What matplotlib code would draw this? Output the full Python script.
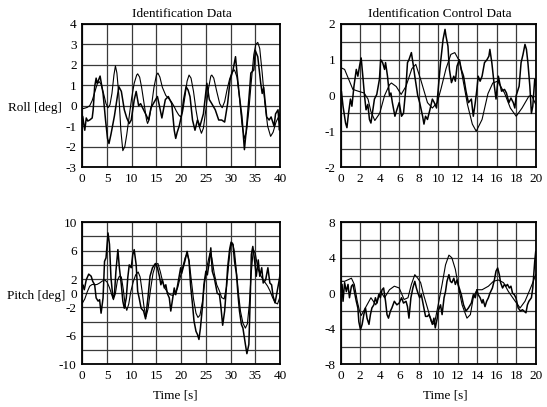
import numpy as np
import matplotlib
matplotlib.use('Agg')
import matplotlib.pyplot as plt

plt.rcParams['font.family'] = ['Liberation Serif', 'DejaVu Serif']
plt.rcParams['font.size'] = 9.5

# roll, identification data (t [s], deg)
roll_id_meas = [(0, -0.5), (0.1, -0.54), (0.3, -0.9), (0.5, -1.2), (0.8, -0.6), (1.1, -0.75), (1.5, -0.7),
                (2.0, -0.6), (2.2, -0.2), (2.5, 0.93), (2.8, 1.35), (3.0, 1.1), (3.2, 1.2), (3.6, 1.45),
                (4.2, 0.6), (4.7, -0.7), (5.1, -1.6), (5.4, -1.85), (5.8, -1.4), (6.5, -0.5), (7.0, 0.3),
                (7.4, 0.93), (7.9, 0.7), (8.5, -0.2), (9.0, -0.6), (9.5, -0.87), (9.9, -0.7), (10.5, 0.28),
                (10.9, 0.7), (11.4, 0.0), (11.8, 0.1), (12.2, -0.1), (12.9, -0.45), (13.4, -0.7),
                (13.9, -0.1), (14.6, 0.2), (15.2, 0.45), (15.6, 0.0), (16.1, -0.6), (16.8, 0.3),
                (17.4, 0.45), (18.1, 0.1), (18.6, -1.2), (18.9, -1.6), (19.2, -1.3), (19.6, -1.0),
                (20.1, -0.45), (20.5, 0.3), (21.0, 0.93), (21.4, 0.77), (21.8, 0.44), (22.3, -0.7),
                (22.8, -1.2), (23.3, -0.7), (23.8, -1.0), (24.5, -0.4), (25.2, 1.1), (25.7, 0.3),
                (26.2, 0.1), (26.9, -0.2), (27.6, -0.7), (28.2, -0.7), (28.8, -0.8), (29.4, 0.1),
                (29.9, 1.26), (30.5, 1.75), (31.0, 2.4), (31.3, 1.6), (31.8, 0.44), (32.3, -0.55),
                (32.8, -2.15), (33.3, -0.87), (33.9, 0.93), (34.1, 1.6), (34.7, 1.75), (35.0, 2.7),
                (35.5, 2.4), (36.1, 1.1), (36.4, 0.6), (36.7, 0.9), (37.3, -0.55), (37.8, -0.7),
                (38.2, -0.55), (38.8, -1.0), (39.1, -0.4), (39.6, -0.2), (39.9, -1.2), (40.0, -0.8)]
roll_id_model = [(0, -0.15), (0.5, -0.12), (1.0, -0.08), (1.5, 0.0), (2.0, 0.25), (2.5, 0.65), (3.0, 1.05),
                 (3.4, 1.18), (3.8, 1.05), (4.3, 0.6), (4.8, 0.1), (5.2, -0.1), (5.6, 0.05), (6.0, 0.6),
                 (6.4, 1.5), (6.7, 1.95), (7.0, 1.6), (7.4, 0.5), (7.8, -1.2), (8.2, -2.2), (8.6, -2.0),
                 (9.0, -1.4), (9.5, -0.5), (10.0, 0.4), (10.5, 1.1), (11.0, 1.5), (11.2, 1.56),
                 (11.6, 1.4), (12.0, 0.9), (12.5, 0.1), (13.0, -0.7), (13.2, -0.87), (13.5, -0.7),
                 (14.0, 0.0), (14.5, 0.9), (15.0, 1.5), (15.3, 1.6), (15.7, 1.4), (16.2, 0.9),
                 (16.9, 0.5), (17.5, 0.35), (18.0, 0.2), (18.5, 0.0), (19.0, -0.25), (19.5, -0.45),
                 (19.9, -0.55), (20.3, -0.3), (20.8, 0.5), (21.2, 1.2), (21.6, 1.5), (22.0, 1.35),
                 (22.5, 0.7), (23.0, -0.2), (23.5, -0.9), (24.1, -1.35), (24.5, -1.1), (25.0, -0.2),
                 (25.5, 0.8), (26.0, 1.45), (26.2, 1.5), (26.6, 1.35), (27.2, 0.7), (27.8, 0.1),
                 (28.3, -0.1), (28.8, 0.2), (29.3, 0.8), (29.8, 1.3), (30.3, 1.65), (30.8, 1.75),
                 (31.3, 1.4), (31.8, 0.4), (32.3, -0.9), (32.8, -1.6), (33.2, -1.3), (33.7, -0.2),
                 (34.2, 1.2), (34.7, 2.5), (35.1, 3.0), (35.5, 3.1), (35.9, 2.8), (36.4, 1.6),
                 (36.9, 0.2), (37.5, -1.0), (38.1, -1.5), (38.6, -1.3), (39.2, -0.8), (39.6, -0.6),
                 (40.0, -0.4)]

# roll, identification control data
roll_ctrl_meas = [(0, 0.1), (0.07, 0.12), (0.24, -0.3), (0.5, -0.77), (0.64, -0.9), (0.8, -0.5), (1.0, -0.1),
                  (1.15, -0.3), (1.36, 0.26), (1.6, 0.73), (1.76, 0.54), (1.93, 0.82), (2.1, 1.05),
                  (2.27, 0.54), (2.44, 0.0), (2.6, -0.4), (2.78, -0.25), (2.95, -0.67), (3.1, -0.77),
                  (3.3, -0.4), (3.46, -0.1), (3.7, 0.03), (3.97, 0.45), (4.1, 1.0), (4.3, 0.92),
                  (4.5, 0.73), (4.6, 0.92), (4.8, 0.54), (5.0, 0.0), (5.15, 0.07), (5.3, -0.2),
                  (5.56, -0.58), (5.76, -0.4), (6.0, -0.2), (6.24, -0.58), (6.44, -0.5), (6.7, 0.26),
                  (6.85, 0.92), (7.0, 1.0), (7.25, 1.2), (7.46, 0.82), (7.6, 0.54), (7.9, 0.0),
                  (8.1, -0.2), (8.4, -0.58), (8.54, -0.8), (8.7, -0.58), (8.9, -0.67), (9.15, -0.4),
                  (9.4, -0.1), (9.6, -0.2), (9.83, -0.35), (10.0, 0.17), (10.24, 0.92), (10.5, 1.57),
                  (10.7, 1.85), (10.8, 1.66), (11.0, 1.38), (11.15, 0.73), (11.36, 0.36), (11.6, 0.54),
                  (11.76, 0.4), (11.93, 0.82), (12.17, 1.0), (12.37, 0.73), (12.6, 0.54), (12.85, 0.12),
                  (13.1, -0.2), (13.4, -0.1), (13.6, -0.58), (13.8, -0.2), (13.97, 0.17), (14.1, 0.54),
                  (14.3, 0.4), (14.5, 0.54), (14.75, 0.92), (15.0, 1.0), (15.2, 1.1), (15.3, 1.29),
                  (15.5, 0.92), (15.76, 0.26), (15.93, -0.1), (16.17, 0.54), (16.3, 0.36), (16.5, 0.12),
                  (16.8, 0.17), (17.0, 0.07), (17.25, -0.2), (17.46, -0.07), (17.7, -0.2), (17.86, -0.35),
                  (18.0, 0.0), (18.3, 0.26), (18.5, 0.92), (18.7, 1.15), (18.9, 1.43), (19.05, 1.29),
                  (19.2, 0.92), (19.4, 0.26), (19.56, -0.5), (19.7, -0.3), (19.9, 0.45), (20.0, 0.3)]
roll_ctrl_model = [(0, 0.78), (0.4, 0.73), (0.9, 0.4), (1.25, 0.17), (1.8, 0.12), (2.4, 0.07), (2.8, -0.1),
                   (3.1, -0.45), (3.5, -0.7), (4.0, -0.5), (4.5, 0.0), (5.0, 0.3), (5.2, 0.35), (5.7, 0.25),
                   (6.2, 0.03), (6.7, 0.26), (7.3, 0.75), (7.7, 0.87), (8.2, 0.45), (8.9, -0.2), (9.4, -0.35),
                   (9.9, -0.2), (10.3, 0.2), (10.8, 0.75), (11.3, 1.15), (11.7, 1.2), (12.2, 0.95),
                   (12.6, 0.35), (13.0, -0.25), (13.5, -0.8), (13.9, -1.0), (14.5, -0.67), (15.1, 0.05),
                   (15.6, 0.35), (16.1, 0.4), (16.8, 0.07), (17.4, -0.35), (18.0, -0.58), (18.6, -0.35),
                   (19.3, -0.02), (19.6, 0.0), (20.0, -0.25)]

# pitch, identification data
pitch_id_meas = [(0, 1.0), (0.1, 1.2), (0.4, 0.5), (0.8, 1.9), (1.3, 2.7), (1.8, 2.4), (2.1, 1.7), (2.5, 1.2),
                 (2.8, -0.65), (3.2, -1.1), (3.5, -0.9), (3.8, -2.8), (4.2, -0.65), (4.5, 4.5), (4.8, 5.0),
                 (5.2, 8.5), (5.5, 6.9), (5.8, 2.2), (6.2, -0.65), (6.5, -0.2), (6.8, 3.1), (7.2, 6.15),
                 (7.5, 3.6), (7.9, 1.2), (8.2, -1.1), (8.5, -2.1), (8.9, -0.65), (9.2, 2.2), (9.5, 4.0),
                 (9.9, 3.6), (10.2, 5.4), (10.5, 6.15), (10.9, 4.0), (11.2, 0.3), (11.5, -0.65),
                 (11.9, -2.1), (12.4, -2.5), (12.8, -3.6), (13.3, -0.5), (13.7, 2.4), (14.2, 3.6),
                 (14.8, 4.2), (15.2, 3.6), (15.6, 2.4), (15.9, 1.2), (16.2, 1.9), (16.6, 0.75),
                 (16.9, 1.2), (17.2, 0.0), (17.6, -0.65), (17.9, -2.5), (18.3, -0.65), (18.6, 0.75),
                 (18.9, -0.2), (19.3, 1.2), (19.6, 2.4), (19.9, 3.6), (20.1, 2.8), (20.4, 3.6),
                 (20.75, 4.5), (21.2, 5.9), (21.6, 4.5), (21.9, 1.2), (22.3, -1.6), (22.6, -3.9),
                 (23.0, -5.35), (23.3, -5.8), (23.6, -6.5), (23.9, -4.9), (24.35, -1.6), (24.6, 1.2),
                 (25.0, 3.1), (25.3, 2.6), (25.7, 4.5), (26.0, 6.4), (26.3, 3.1), (26.7, 2.2),
                 (27.1, 0.75), (27.3, 0.0), (27.75, -0.2), (28.0, -1.6), (28.4, -4.5), (28.8, -2.5),
                 (29.1, 0.3), (29.4, 3.6), (29.8, 6.15), (30.1, 7.2), (30.5, 6.85), (30.8, 4.5),
                 (31.2, 2.6), (31.5, -0.2), (31.8, -2.5), (32.2, -4.4), (32.5, -4.9), (33.0, -7.2),
                 (33.3, -8.5), (33.7, -7.2), (34.0, -0.2), (34.2, 5.45), (34.5, 6.6), (34.8, 5.0),
                 (35.2, 2.4), (35.6, 4.7), (35.9, 2.4), (36.3, 3.6), (36.6, 1.45), (37.1, 1.9),
                 (37.55, 3.6), (37.95, 1.45), (38.3, 1.2), (38.6, -0.4), (39.0, -1.35), (39.3, -0.2),
                 (39.8, 1.7), (40.0, 2.6)]
pitch_id_model = [(0, -1.4), (0.5, -0.8), (1.0, 0.2), (1.5, 1.0), (2.0, 1.25), (2.5, 1.2), (3.0, 1.25),
                  (3.5, 1.45), (4.0, 1.7), (4.5, 1.9), (5.0, 1.6), (5.5, 0.8), (6.0, -0.3), (6.3, -0.9),
                  (6.7, 0.0), (7.1, 1.8), (7.5, 2.4), (7.9, 2.3), (8.3, 0.5), (8.7, -1.8), (9.0, -2.4),
                  (9.4, -1.5), (9.8, 0.2), (10.3, 1.6), (10.8, 2.6), (11.3, 3.0), (11.7, 2.3), (12.1, 0.3),
                  (12.5, -2.0), (12.9, -3.3), (13.3, -2.2), (13.8, 0.5), (14.3, 2.8), (14.8, 4.0),
                  (15.3, 4.2), (15.8, 3.0), (16.3, 1.5), (16.8, 0.6), (17.3, 0.1), (17.8, -0.2),
                  (18.3, -0.3), (18.8, 0.0), (19.3, 0.8), (19.8, 2.2), (20.3, 3.6), (20.8, 5.0),
                  (21.2, 5.6), (21.6, 4.6), (22.0, 2.2), (22.5, -0.8), (23.0, -2.8), (23.4, -3.4),
                  (23.8, -3.1), (24.3, -1.2), (24.8, 1.8), (25.3, 4.0), (25.8, 5.6), (26.2, 5.0),
                  (26.7, 2.8), (27.2, 1.2), (27.7, 0.4), (28.2, -0.6), (28.7, -0.8), (29.2, 1.0),
                  (29.6, 4.0), (30.0, 6.6), (30.4, 7.1), (30.8, 5.8), (31.2, 3.0), (31.6, 0.0),
                  (32.0, -2.5), (32.5, -4.2), (33.0, -4.9), (33.4, -4.3), (33.8, -1.5), (34.2, 3.0),
                  (34.6, 6.2), (35.0, 5.6), (35.5, 3.6), (36.0, 2.6), (36.5, 2.0), (37.0, 1.5),
                  (37.5, 1.0), (38.0, 0.3), (38.5, -0.6), (39.0, -1.3), (39.5, -1.5), (40.0, -0.5)]

# pitch, identification control data
pitch_ctrl_meas = [(0, 0.4), (0.14, 1.0), (0.24, -0.9), (0.4, 1.2), (0.58, 0.2), (0.75, 1.0), (0.9, -0.5),
                   (1.1, 0.8), (1.25, 1.0), (1.4, 0.2), (1.6, -0.9), (1.76, -1.65), (1.86, -3.2),
                   (2.03, -4.1), (2.2, -3.5), (2.37, -2.4), (2.54, -1.65), (2.7, -2.8), (2.9, -3.5),
                   (3.05, -2.4), (3.2, -1.65), (3.4, -1.3), (3.56, -0.5), (3.73, -1.1), (3.9, -0.15),
                   (4.07, -0.5), (4.24, 0.4), (4.4, 0.6), (4.6, -0.9), (4.75, -2.4), (4.9, -2.8),
                   (5.1, -2.0), (5.25, -1.65), (5.5, -0.9), (5.76, -1.3), (6.0, -1.1), (6.24, -0.5),
                   (6.44, -1.1), (6.7, -0.9), (6.85, -1.5), (7.0, -2.8), (7.2, -0.5), (7.4, 0.6),
                   (7.6, 1.35), (7.76, 0.6), (7.93, 0.0), (8.1, -0.5), (8.27, -0.15), (8.47, -1.3),
                   (8.7, -2.6), (8.9, -2.6), (9.05, -2.4), (9.2, -2.8), (9.4, -3.5), (9.56, -2.8),
                   (9.7, -3.9), (9.9, -2.8), (10.0, -2.0), (10.24, -1.3), (10.4, -2.4), (10.6, -0.5),
                   (10.75, 0.2), (10.9, 1.35), (11.1, 2.1), (11.25, 1.35), (11.4, 1.2), (11.6, 1.7),
                   (11.76, 1.0), (11.93, 1.5), (12.1, 0.8), (12.37, -0.15), (12.6, -1.3), (12.85, -2.0),
                   (13.1, -1.65), (13.4, -1.1), (13.6, -0.15), (13.8, -0.5), (13.97, 0.4), (14.1, -0.15),
                   (14.3, -0.5), (14.5, -1.1), (14.6, -0.7), (14.8, -1.5), (14.97, -0.9), (15.15, -0.5),
                   (15.3, 0.0), (15.56, 0.6), (15.76, 1.5), (15.93, 2.5), (16.1, 2.85), (16.27, 2.1),
                   (16.4, 1.2), (16.6, 0.6), (16.8, 1.0), (16.95, 0.8), (17.1, 1.0), (17.3, 0.6),
                   (17.46, 0.8), (17.63, 0.0), (17.8, -0.15), (17.97, -0.5), (18.2, -1.65), (18.44, -2.0),
                   (18.64, -1.85), (18.8, -2.0), (19.0, -2.2), (19.15, -1.3), (19.3, -0.9), (19.56, -0.5),
                   (19.7, 0.6), (19.9, 3.6), (20.0, 4.7)]
pitch_ctrl_model = [(0, 1.35), (0.4, 1.35), (1.1, 1.7), (1.4, 1.0), (1.7, -0.9), (1.93, -2.0), (2.1, -2.5),
                    (2.4, -1.9), (2.8, -1.1), (3.1, -0.5), (3.6, -1.3), (4.1, 0.2), (4.5, -0.5), (5.0, 0.4),
                    (5.5, 0.8), (6.0, 0.6), (6.5, -0.7), (6.9, -0.5), (7.25, 1.0), (7.6, 2.1), (7.9, 1.7),
                    (8.2, 1.2), (8.5, -0.15), (8.9, -1.65), (9.3, -3.2), (9.6, -3.5), (10.0, -1.3),
                    (10.4, 1.0), (10.75, 3.2), (11.1, 4.3), (11.4, 4.0), (11.76, 2.7), (12.1, 0.6),
                    (12.45, -1.3), (12.95, -2.8), (13.3, -2.4), (13.6, -0.5), (13.97, 0.4), (14.5, 0.4),
                    (15.15, 0.8), (15.66, 1.35), (16.17, 1.5), (16.7, 1.2), (17.2, 0.2), (17.9, -0.9),
                    (18.4, -1.65), (18.9, -0.9), (19.4, 0.4), (19.7, 1.2), (20.0, 2.1)]

roll_id_yticks = [-3, -2, -1, 0, 1, 2, 3, 4]
roll_ctrl_yticks = [-2, -1, 0, 1, 2]
pitch_id_yticks = [-10, -6, -2, 0, 2, 6, 10]
pitch_ctrl_yticks = [-8, -4, 0, 4, 8]

W, H = 547, 407
fig = plt.figure(figsize=(W / 100, H / 100), dpi=100)


def make_ax(x0, x1, y0, y1):
    # pixel box -> figure fraction
    return fig.add_axes([x0 / W, 1 - y1 / H, (x1 - x0) / W, (y1 - y0) / H])


def draw(ax, meas, model, xmax, xstep, ylim, ystep, ylabels):
    m = np.array(meas).T
    s = np.array(model).T
    ax.plot(s[0], s[1], color='black', lw=0.8)
    ax.plot(m[0], m[1], color='black', lw=1.1)
    ax.set_xlim(0, xmax)
    ax.set_ylim(*ylim)
    ax.set_xticks(np.arange(0, xmax + 0.01, xstep))
    ax.set_xticklabels([f'{v:g}' for v in np.arange(0, xmax + 0.01, xstep)])
    yt = np.arange(ylim[0], ylim[1] + 0.001, ystep)
    ax.set_yticks(yt)
    ax.set_yticklabels([f'{v:g}' if any(abs(v - l) < 1e-6 for l in ylabels) else '' for v in yt])
    ax.tick_params(length=0, pad=4, labelsize=9.5)
    ax.grid(True, color='#3a3a3a', lw=0.9)
    ax.set_axisbelow(True)
    for sp in ax.spines.values():
        sp.set_linewidth(1.3)


ax1 = make_ax(82.3, 280, 24, 167)
draw(ax1, roll_id_meas, roll_id_model, 40, 5, (-3, 4), 1, roll_id_yticks)
ax2 = make_ax(340.7, 535.7, 24, 167)
draw(ax2, roll_ctrl_meas, roll_ctrl_model, 20, 2, (-2, 2), 0.5, roll_ctrl_yticks)
ax3 = make_ax(82.3, 280, 222.3, 364.3)
draw(ax3, pitch_id_meas, pitch_id_model, 40, 5, (-10, 10), 2, pitch_id_yticks)
ax4 = make_ax(340.7, 535.7, 222.3, 364.3)
draw(ax4, pitch_ctrl_meas, pitch_ctrl_model, 20, 2, (-8, 8), 2, pitch_ctrl_yticks)

fig.text(182 / W, 1 - 14 / H, 'Identification Data', ha='center', va='center', fontsize=9.5)
fig.text(440 / W, 1 - 14 / H, 'Identification Control Data', ha='center', va='center', fontsize=9.5)
fig.text(8 / W, 1 - 108 / H, 'Roll [deg]', ha='left', va='center', fontsize=9.5)
fig.text(7 / W, 1 - 296 / H, 'Pitch [deg]', ha='left', va='center', fontsize=9.5)
fig.text(175 / W, 1 - 396 / H, 'Time [s]', ha='center', va='center', fontsize=9.5)
fig.text(445 / W, 1 - 396 / H, 'Time [s]', ha='center', va='center', fontsize=9.5)

fig.savefig('out.png', dpi=100)
